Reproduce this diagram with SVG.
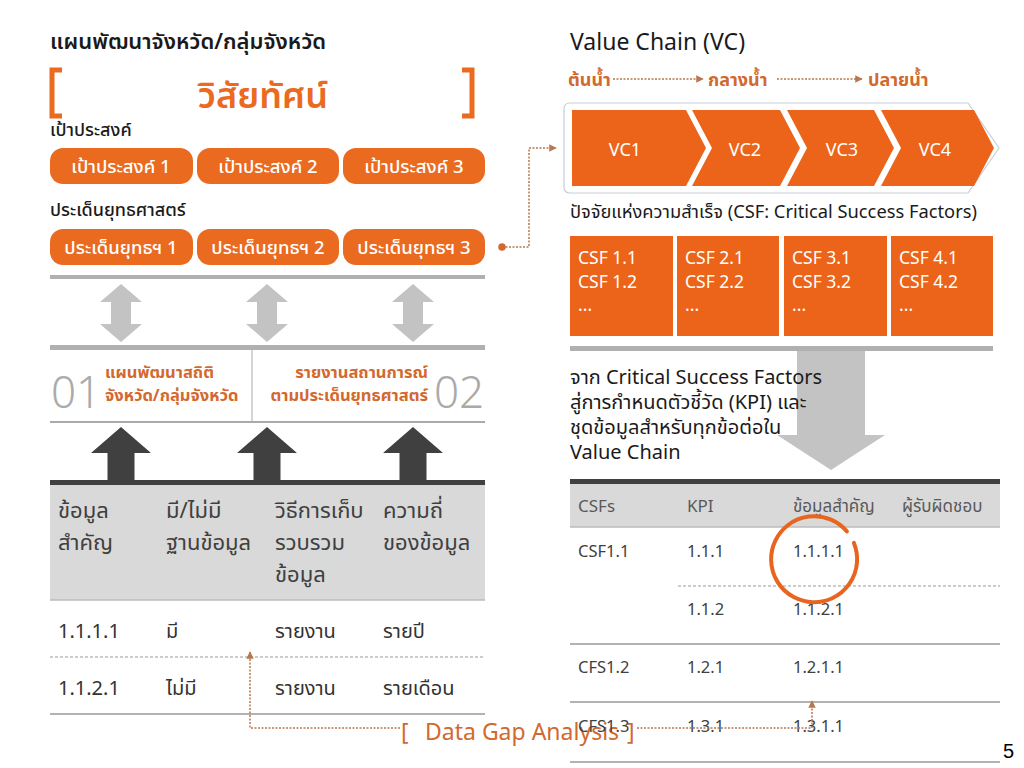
<svg xmlns="http://www.w3.org/2000/svg" width="1024" height="768" viewBox="0 0 1024 768">
<defs>
<style>
text{font-family:"Noto Sans Thai","Noto Sans","Open Sans","DejaVu Sans",sans-serif;}
.h{fill:#1a1a1a;font-weight:500;}
.r{fill:#1a1a1a;font-weight:400;}
.btn{fill:#ea6a1f;}
.bt{font-size:18.5px;fill:#fff;text-anchor:middle;font-weight:500;}
.or{fill:#d2692e;font-weight:bold;font-size:16.5px;}
.num{font-size:44px;fill:#aaa;font-weight:300;}
.th{font-size:22px;fill:#404040;}
.td{font-size:20px;fill:#333;}
.rth{font-size:17px;fill:#595959;}
.rtd{font-size:16.5px;fill:#404040;}
.csf{font-size:17.5px;fill:#fff;}
.fl{font-size:18px;font-weight:bold;fill:#d2692e;}
.vc{font-size:18px;fill:#fff;text-anchor:middle;}
.dot{fill:none;stroke:#b8774f;stroke-width:1.5;stroke-dasharray:2 1.5;}
.lgar{fill:#c3c3c3;}
.dkar{fill:#404040;}
</style>
<marker id="ah" viewBox="0 0 10 10" refX="9" refY="5" markerWidth="5" markerHeight="5" orient="auto-start-reverse">
<path d="M0,0 L10,5 L0,10 Z" fill="#b8774f"/>
</marker>
<marker id="dotm" viewBox="0 0 10 10" refX="5" refY="5" markerWidth="5" markerHeight="5">
<circle cx="5" cy="5" r="5" fill="#d2692e"/>
</marker>
</defs>
<rect width="1024" height="768" fill="#fff"/>

<!-- Left: plan -->
<g id="plan-title">
<text class="h" x="50" y="49" style="font-size:22px;font-weight:600">แผนพัฒนาจังหวัด/กลุ่มจังหวัด</text>
</g>
<g id="vision">
<path d="M62,70 L52,70 L52,116 L62,116" fill="none" stroke="#ea6a1f" stroke-width="5"/>
<path d="M462,70 L472,70 L472,116 L462,116" fill="none" stroke="#ea6a1f" stroke-width="5"/>
<text x="263" y="108" style="font-size:36px;font-weight:600;fill:#ea6a1f" text-anchor="middle">วิสัยทัศน์</text>
</g>
<g id="goals">
<text class="h" x="50" y="136" style="font-size:18px">เป้าประสงค์</text>
<rect class="btn" x="50" y="148" width="143" height="36" rx="13"/>
<text class="bt" x="121" y="173">เป้าประสงค์ 1</text>
<rect class="btn" x="197" y="148" width="142" height="36" rx="13"/>
<text class="bt" x="268" y="173">เป้าประสงค์ 2</text>
<rect class="btn" x="343" y="148" width="142" height="36" rx="13"/>
<text class="bt" x="414" y="173">เป้าประสงค์ 3</text>
</g>
<g id="strategies">
<text class="h" x="50" y="216" style="font-size:18px">ประเด็นยุทธศาสตร์</text>
<rect class="btn" x="50" y="229" width="143" height="36" rx="13"/>
<text class="bt" x="121" y="254">ประเด็นยุทธฯ 1</text>
<rect class="btn" x="197" y="229" width="142" height="36" rx="13"/>
<text class="bt" x="268" y="254">ประเด็นยุทธฯ 2</text>
<rect class="btn" x="343" y="229" width="142" height="36" rx="13"/>
<text class="bt" x="414" y="254">ประเด็นยุทธฯ 3</text>
</g>

<g id="middle-band">
<rect x="50" y="275" width="435" height="4" fill="#b0b0b0"/>
<path class="lgar" d="M121,284 L142,302 L131,302 L131,324 L142,324 L121,342 L100,324 L111,324 L111,302 L100,302 Z"/>
<path class="lgar" d="M267,284 L288,302 L277,302 L277,324 L288,324 L267,342 L246,324 L257,324 L257,302 L246,302 Z"/>
<path class="lgar" d="M413,284 L434,302 L423,302 L423,324 L434,324 L413,342 L392,324 L403,324 L403,302 L392,302 Z"/>
<rect x="50" y="345" width="435" height="5" fill="#b0b0b0"/>
<line x1="252" y1="350" x2="252" y2="422" stroke="#aaa" stroke-width="1"/>
<line x1="50" y1="422" x2="485" y2="422" stroke="#aaa" stroke-width="2"/>
</g>
<g id="stat-plan">
<text class="num" x="51" y="408">01</text>
<text class="or" x="105" y="378">แผนพัฒนาสถิติ</text>
<text class="or" x="105" y="401">จังหวัด/กลุ่มจังหวัด</text>
</g>
<g id="situation-report">
<text class="or" x="428" y="378" text-anchor="end">รายงานสถานการณ์</text>
<text class="or" x="428" y="401" text-anchor="end">ตามประเด็นยุทธศาสตร์</text>
<text class="num" x="434" y="408">02</text>
</g>
<g id="up-arrows">
<path class="dkar" d="M121,427 L151,453 L134.5,453 L134.5,483 L107.5,483 L107.5,453 L91,453 Z"/>
<path class="dkar" d="M267,427 L297,453 L280.5,453 L280.5,483 L253.5,483 L253.5,453 L237,453 Z"/>
<path class="dkar" d="M413,427 L443,453 L426.5,453 L426.5,483 L399.5,483 L399.5,453 L383,453 Z"/>
</g>

<g id="gap-table">
<rect x="50" y="484" width="435" height="116" fill="#d9d9d9"/>
<rect x="50" y="480" width="435" height="5" fill="#404040"/>
<line x1="50" y1="600" x2="485" y2="600" stroke="#bbb" stroke-width="1.5"/>
<text class="th" x="58" y="518">ข้อมูล</text>
<text class="th" x="58" y="550">สำคัญ</text>
<text class="th" x="166" y="518">มี/ไม่มี</text>
<text class="th" x="166" y="550">ฐานข้อมูล</text>
<text class="th" x="275" y="518">วิธีการเก็บ</text>
<text class="th" x="275" y="550">รวบรวม</text>
<text class="th" x="275" y="582">ข้อมูล</text>
<text class="th" x="383" y="518">ความถี่</text>
<text class="th" x="383" y="550">ของข้อมูล</text>
<text class="td" x="58" y="638">1.1.1.1</text>
<text class="td" x="166" y="638">มี</text>
<text class="td" x="275" y="638">รายงาน</text>
<text class="td" x="383" y="638">รายปี</text>
<line x1="50" y1="657" x2="485" y2="657" stroke="#999" stroke-width="1" stroke-dasharray="3 2"/>
<text class="td" x="58" y="695">1.1.2.1</text>
<text class="td" x="166" y="695">ไม่มี</text>
<text class="td" x="275" y="695">รายงาน</text>
<text class="td" x="383" y="695">รายเดือน</text>
<line x1="50" y1="714" x2="485" y2="714" stroke="#999" stroke-width="1.5"/>
</g>

<!-- Right: value chain -->
<g id="vc-title">
<text class="r" x="570" y="50" style="font-size:23px">Value Chain (VC)</text>
</g>
<g id="flow">
<text class="fl" x="568" y="86">ต้นน้ำ</text>
<text class="fl" x="708" y="86">กลางน้ำ</text>
<text class="fl" x="868" y="86">ปลายน้ำ</text>
</g>
<g id="value-chain">
<path d="M570,103 L968,103 L999,148 L968,193 L570,193 Q564,193 564,187 L564,109 Q564,103 570,103 Z" fill="#fff" stroke="#c8ccd4" stroke-width="1.2" stroke-linejoin="round"/>
<path d="M572,110 L686,110 L706,148 L686,186 L572,186 Z" fill="#ec6419"/>
<path d="M692,110 L780,110 L800,148 L780,186 L692,186 L712,148 Z" fill="#ec6419"/>
<path d="M787,110 L874,110 L894,148 L874,186 L787,186 L807,148 Z" fill="#ec6419"/>
<path d="M881,110 L974,110 L994,148 L974,186 L881,186 L901,148 Z" fill="#ec6419"/>
<text class="vc" x="625" y="156">VC1</text>
<text class="vc" x="745" y="156">VC2</text>
<text class="vc" x="842" y="156">VC3</text>
<text class="vc" x="935" y="156">VC4</text>
</g>
<g id="csf-title">
<text class="r" x="570" y="218" style="font-size:18.3px">ปัจจัยแห่งความสำเร็จ (CSF: Critical Success Factors)</text>
</g>
<g id="csf-boxes">
<rect x="570" y="236" width="103" height="100" fill="#ec6419"/>
<rect x="677" y="236" width="102" height="100" fill="#ec6419"/>
<rect x="784" y="236" width="103" height="100" fill="#ec6419"/>
<rect x="891" y="236" width="102" height="100" fill="#ec6419"/>
<text class="csf" x="578" y="264">CSF 1.1</text>
<text class="csf" x="578" y="288">CSF 1.2</text>
<text class="csf" x="578" y="311">...</text>
<text class="csf" x="685" y="264">CSF 2.1</text>
<text class="csf" x="685" y="288">CSF 2.2</text>
<text class="csf" x="685" y="311">...</text>
<text class="csf" x="792" y="264">CSF 3.1</text>
<text class="csf" x="792" y="288">CSF 3.2</text>
<text class="csf" x="792" y="311">...</text>
<text class="csf" x="899" y="264">CSF 4.1</text>
<text class="csf" x="899" y="288">CSF 4.2</text>
<text class="csf" x="899" y="311">...</text>
</g>
<g id="kpi-arrow">
<rect x="570" y="346" width="423" height="5" fill="#b0b0b0"/>
<path d="M797,351 L865,351 L865,435 L885,435 L831,470 L777,435 L797,435 Z" fill="#c3c3c3"/>
<text class="r" x="570" y="384" style="font-size:20px">จาก Critical Success Factors</text>
<text class="r" x="570" y="409" style="font-size:20px">สู่การกำหนดตัวชี้วัด (KPI) และ</text>
<text class="r" x="570" y="434" style="font-size:20px">ชุดข้อมูลสำหรับทุกข้อต่อใน</text>
<text class="r" x="570" y="459" style="font-size:20px">Value Chain</text>
</g>

<g id="kpi-table">
<rect x="570" y="483" width="430" height="44" fill="#d9d9d9"/>
<rect x="570" y="479" width="430" height="5" fill="#404040"/>
<line x1="570" y1="527" x2="1000" y2="527" stroke="#bbb" stroke-width="1.5"/>
<text class="rth" x="578" y="512">CSFs</text>
<text class="rth" x="687" y="512">KPI</text>
<text class="rth" x="793" y="512">ข้อมูลสำคัญ</text>
<text class="rth" x="902" y="512">ผู้รับผิดชอบ</text>
<text class="rtd" x="578" y="557">CSF1.1</text>
<text class="rtd" x="687" y="557">1.1.1</text>
<text class="rtd" x="793" y="557">1.1.1.1</text>
<line x1="678" y1="586" x2="1000" y2="586" stroke="#999" stroke-width="1" stroke-dasharray="3 2"/>
<text class="rtd" x="687" y="615">1.1.2</text>
<text class="rtd" x="793" y="615">1.1.2.1</text>
<line x1="570" y1="644" x2="1000" y2="644" stroke="#999" stroke-width="1.5"/>
<text class="rtd" x="578" y="673">CFS1.2</text>
<text class="rtd" x="687" y="673">1.2.1</text>
<text class="rtd" x="793" y="673">1.2.1.1</text>
<line x1="570" y1="702" x2="1000" y2="702" stroke="#999" stroke-width="1.5"/>
<line x1="570" y1="762" x2="1000" y2="762" stroke="#999" stroke-width="1.5"/>
</g>
<g id="highlight-circle">
<path d="M853.9,542.9 A43,43 0 1 1 846.9,531.4" fill="none" stroke="#e8651f" stroke-width="4" stroke-linecap="round"/>
</g>

<g id="data-gap-label">
<text x="401" y="740" style="font-size:23px;fill:#d2692e">[</text>
<text x="425" y="740" style="font-size:23px;fill:#d2692e">Data Gap Analysis</text>
<text x="627" y="740" style="font-size:23px;fill:#d2692e">]</text>
</g>
<g id="last-row">
<text class="rtd" x="578" y="732">CFS1.3</text>
<text class="rtd" x="687" y="732">1.3.1</text>
<text class="rtd" x="793" y="732">1.3.1.1</text>
</g>

<g id="connectors">
<path class="dot" d="M502,247 L529,247 L529,148 L556,148" marker-start="url(#dotm)" marker-end="url(#ah)"/>
<path class="dot" d="M613,79 L703,79" marker-end="url(#ah)"/>
<path class="dot" d="M777,79 L862,79" marker-end="url(#ah)"/>
<path class="dot" d="M400,728 L250,728 L250,652" marker-end="url(#ah)"/>
<path class="dot" d="M637,728 L812,728 L812,701" marker-end="url(#ah)"/>
</g>

<g id="page-number">
<text x="1003" y="758" style="font-size:20px;font-family:'Liberation Sans',Arial,sans-serif;fill:#000">5</text>
</g>
</svg>
